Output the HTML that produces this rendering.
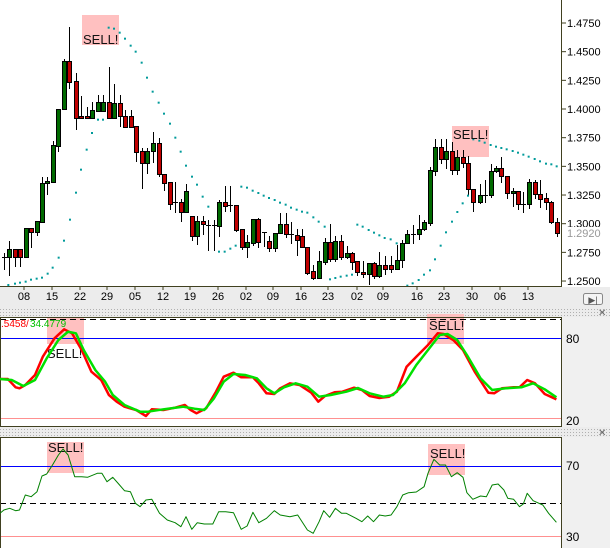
<!DOCTYPE html><html><head><style>
body{margin:0;width:610px;height:548px;overflow:hidden;background:#fff;font-family:"Liberation Sans",sans-serif}
svg{display:block}
</style></head><body>
<svg id="s" width="610" height="548" xmlns="http://www.w3.org/2000/svg" font-family="Liberation Sans, sans-serif">
<defs><pattern id="dots" width="3" height="3" patternUnits="userSpaceOnUse"><rect width="3" height="3" fill="#ececec"/><rect width="1" height="1" fill="#b0b0b0"/></pattern></defs>
<rect x="0" y="0" width="610" height="548" fill="#fff"/>
<rect x="0" y="287" width="610" height="20" fill="#ececec"/>
<rect x="0" y="307" width="610" height="10" fill="url(#dots)"/>
<rect x="562" y="317" width="48" height="110" fill="#f0f0f0"/>
<rect x="0" y="427" width="610" height="10" fill="url(#dots)"/>
<rect x="562" y="437" width="48" height="111" fill="#f0f0f0"/>
<g id="g"></g>
</svg>
<script>
const NS="http://www.w3.org/2000/svg",G=document.getElementById('g');
function el(t,a,txt){const e=document.createElementNS(NS,t);for(const k in a)e.setAttribute(k,a[k]);if(txt!==undefined)e.textContent=txt;G.appendChild(e);return e}
// pink boxes
[[82,15,37,30],[452,126,37,31],[47,318,37,26],[427,314,37,30],[47,442,37,31],[428,444,37,31]].forEach(b=>el('rect',{x:b[0],y:b[1],width:b[2],height:b[3],fill:'#ffc0c0'}));
// main candles [x,top,bottom,h,l,c]
const C=[[4,257,257,253,270,'d'],[9,249,257,241,276,'g'],[15,249,257,249,267,'r'],[20,249,257,249,267,'r'],[26,228,257,228,257,'g'],[31,228,232,228,248,'r'],[37,221,232,221,236,'g'],[42,183,222,177,222,'g'],[47,181,183,177,195,'g'],[53,145,182,141,182,'g'],[58,109,146,109,152,'g'],[64,61,109,59,109,'g'],[69,61,82,27,89,'r'],[76,81,118,73,130,'r'],[81,116,118,96,118,'r'],[87,116,118,107,119,'r'],[92,110,118,102,118,'g'],[98,102,111,95,111,'g'],[103,102,111,95,111,'g'],[109,102,118,67,118,'r'],[114,103,118,84,118,'g'],[120,103,116,95,127,'r'],[125,116,127,110,128,'r'],[131,116,127,110,128,'r'],[136,126,152,126,162,'r'],[142,151,163,148,189,'r'],[147,151,163,148,174,'g'],[153,143,151,132,163,'g'],[159,143,174,138,177,'r'],[164,174,183,174,191,'r'],[170,182,204,182,210,'r'],[175,202,202,182,213,'d'],[181,202,212,199,222,'r'],[186,191,212,184,212,'g'],[192,216,236,216,241,'r'],[197,221,236,216,245,'g'],[203,221,224,216,235,'r'],[208,225,225,220,251,'d'],[214,225,225,220,251,'d'],[219,202,226,200,237,'g'],[225,202,206,186,212,'r'],[230,205,205,186,212,'d'],[236,205,230,205,232,'r'],[242,229,247,229,250,'r'],[247,242,247,235,258,'g'],[253,219,243,219,246,'g'],[258,219,242,218,248,'r'],[264,232,232,232,247,'d'],[269,241,248,236,252,'r'],[275,233,248,233,252,'g'],[280,224,233,213,234,'g'],[286,224,234,213,238,'r'],[291,234,234,222,244,'d'],[297,235,240,229,256,'r'],[302,236,247,229,247,'r'],[307,247,273,247,275,'r'],[313,271,278,265,280,'r'],[319,261,278,251,278,'g'],[325,242,262,238,265,'g'],[330,242,259,224,262,'r'],[335,241,259,236,262,'g'],[341,241,257,235,260,'r'],[347,253,257,246,259,'g'],[352,253,262,252,270,'r'],[357,261,272,261,276,'r'],[363,272,274,261,278,'r'],[369,263,274,263,285,'g'],[374,263,276,262,279,'r'],[379,265,276,252,278,'g'],[385,265,269,256,275,'r'],[391,265,269,256,273,'r'],[397,260,269,245,268,'g'],[402,243,260,240,268,'g'],[407,234,243,230,244,'g'],[413,234,234,225,244,'d'],[419,229,234,215,240,'g'],[424,222,229,220,231,'g'],[430,170,223,167,226,'g'],[435,147,171,139,176,'g'],[441,147,159,139,164,'r'],[446,151,159,139,169,'g'],[452,151,170,142,175,'r'],[457,157,170,150,175,'g'],[463,157,163,150,168,'r'],[468,163,189,156,196,'r'],[473,189,202,189,212,'r'],[480,195,202,184,204,'g'],[485,195,195,180,203,'d'],[491,171,195,164,198,'g'],[496,168,171,166,173,'g'],[501,168,176,157,183,'r'],[507,176,193,176,199,'r'],[513,191,193,188,207,'g'],[518,191,204,191,210,'r'],[523,204,204,192,213,'d'],[529,182,204,179,209,'g'],[535,182,194,180,199,'r'],[540,194,199,180,208,'r'],[546,198,202,193,210,'r'],[551,202,222,201,224,'r'],[557,222,233,218,237,'r']];
C.forEach(c=>{const[x,t,b,h,l,k]=c;el('line',{x1:x+.5,y1:h,x2:x+.5,y2:l,stroke:'#000','stroke-width':1});
if(k=='d'){el('line',{x1:x-2,y1:t+.5,x2:x+3,y2:t+.5,stroke:'#000'})}else{el('rect',{x:x-2+.5,y:t+.5,width:4,height:Math.max(b-t,1),fill:k=='g'?'#006a00':'#c00000',stroke:'#000','stroke-width':1})}});
// PSAR
const P1=[[25,855],[45,851],[60,848],[77,845],[93,839],[110,836],[126,833],[143,821],[158,803],[176,773],[192,722],[210,659],[228,578],[243,509],[260,449],[276,399],[294,359],[309,359],[326,83],[342,86],[359,98],[375,116],[392,137],[407,155],[425,188],[441,233],[458,275],[476,308],[492,341],[510,371],[526,413],[542,455],[558,497],[576,530],[591,554],[608,590],[625,620],[657,755],[674,755],[691,746],[707,737],[724,560],[741,563],[758,572],[775,579],[791,587],[807,594],[824,600],[840,608],[857,614],[873,623],[890,629],[906,635]];
const P2=[[22,638],[40,652],[56,665],[74,680],[90,838],[106,834],[122,830],[140,827],[156,824],[172,674],[188,680],[206,690],[222,698],[238,706],[254,714],[272,718],[290,730],[322,857],[338,850],[356,840],[372,824],[390,811],[405,778],[422,737],[438,697],[456,665],[472,636],[488,610],[504,587],[520,418],[538,422],[554,428],[572,435],[588,440],[604,444],[620,448],[638,453],[654,458],[670,464],[686,470],[704,477],[720,484],[738,491],[754,493],[770,499]];
P1.forEach(p=>el('rect',{x:p[0]/3-1,y:p[1]/3-1,width:2,height:2,fill:'#009a9a'}));
P2.forEach(p=>el('rect',{x:300+p[0]/3-1,y:p[1]/3-1,width:2,height:2,fill:'#009a9a'}));
// axes main
el('line',{x1:561.5,y1:0,x2:561.5,y2:287,stroke:'#404020'});
el('line',{x1:0,y1:286.5,x2:562,y2:286.5,stroke:'#404020'});
const pl=['1.4750','1.4500','1.4250','1.4000','1.3750','1.3500','1.3250','1.3000','1.2750','1.2500'];
pl.forEach((t,i)=>{const y=23+i*28.67;el('line',{x1:561,y1:y,x2:566,y2:y,stroke:'#404020'});el('text',{x:567,y:y+4,'font-size':11,fill:'#000'},t)});
el('rect',{x:564,y:227,width:45,height:12,fill:'#fff'});el('text',{x:567,y:237,'font-size':11,fill:'#999'},'1.2920');
const dl=[[24,'08'],[52,'15'],[80,'22'],[107,'29'],[135,'05'],[163,'12'],[190,'19'],[218,'26'],[246,'02'],[273,'09'],[301,'16'],[328,'23'],[357,'02'],[383,'09'],[417,'16'],[444,'23'],[472,'30'],[500,'06'],[528,'13']];
dl.forEach(d=>{el('line',{x1:d[0],y1:286,x2:d[0],y2:290,stroke:'#404020'});el('text',{x:d[0],y:300,'font-size':11,'text-anchor':'middle',fill:'#000'},d[1])});
el('rect',{x:583.5,y:293.5,width:19,height:11,rx:2,fill:'#f4f4f4',stroke:'#888'});el('text',{x:593,y:303,'font-size':9,'text-anchor':'middle',fill:'#555'},'▶|');
// SELL texts
[[83,44],[453,139],[47,358],[429,330],[48,452],[430,458]].forEach(s=>el('text',{x:s[0],y:s[1],'font-size':13,fill:'#111'},'SELL!'));
// panel 2
el('line',{x1:0,y1:319.5,x2:561,y2:319.5,stroke:'#000','stroke-dasharray':'6,4'});
el('line',{x1:0,y1:338.5,x2:561,y2:338.5,stroke:'#0000ff'});
el('line',{x1:0,y1:418.5,x2:561,y2:418.5,stroke:'#ff9090'});
el('rect',{x:0.5,y:317.5,width:561,height:109,fill:'none',stroke:'#404020'});
el('text',{x:566,y:343,'font-size':12},'80');el('text',{x:566,y:425,'font-size':12},'20');
function line(pts,col,w,xs,ys){el('polyline',{points:pts.map(p=>(p[0]/xs).toFixed(1)+','+(300+p[1]/ys).toFixed(1)).join(' '),fill:'none',stroke:col,'stroke-width':w,'stroke-linejoin':'round'})}
const K=[[0,237],[20,237],[40,262],[50,265],[65,255],[90,225],[110,170],[140,115],[165,88],[185,100],[210,150],[235,215],[260,240],[280,285],[300,305],[320,320],[350,330],[375,348],[390,328],[420,330],[450,323],[475,315],[490,330],[505,340],[530,325],[555,275],[575,230],[600,218],[620,232],[650,232],[665,250],[685,280],[705,282],[720,265],[745,250],[770,255],[800,278],[818,305],[835,288],[860,277],[880,275],[910,263],[930,270],[950,288],[975,294],[1000,290],[1020,275],[1045,200],[1070,170],[1100,135],[1125,100],[1140,102],[1165,120],[1190,150],[1220,215],[1255,278],[1270,280],[1290,265],[1320,262],[1335,262],[1355,240],[1375,250],[1400,282],[1430,298]];
const D=[[0,237],[30,240],[60,258],[90,240],[120,175],[150,120],[175,95],[195,100],[215,150],[245,210],[270,245],[290,285],[320,315],[360,335],[380,335],[420,328],[470,320],[500,326],[525,330],[550,295],[575,245],[600,222],[630,225],[660,235],[685,265],[705,280],[730,262],[760,250],[790,260],[820,290],[850,285],[890,275],[920,264],[950,280],[985,290],[1010,285],[1040,250],[1070,195],[1100,150],[1130,105],[1150,102],[1175,120],[1200,165],[1235,235],[1265,270],[1300,265],[1340,262],[1370,250],[1400,268],[1430,292]];
line(K,'#ff0000',2.5,2.57,3);line(D,'#00e000',2.5,2.57,3);
el('text',{x:1,y:327,'font-size':10,fill:'#ff0000'},'.5458/');el('text',{x:30,y:327,'font-size':10,fill:'#00c000'},'34.4779');
// panel 3
el('line',{x1:0,y1:466.5,x2:561,y2:466.5,stroke:'#0000ff'});
el('line',{x1:0,y1:503.5,x2:561,y2:503.5,stroke:'#000','stroke-dasharray':'6,4'});
el('line',{x1:0,y1:536.5,x2:561,y2:536.5,stroke:'#ff9090'});
el('rect',{x:0.5,y:437.5,width:561,height:111,fill:'none',stroke:'#404020'});
el('text',{x:566,y:470,'font-size':12},'70');el('text',{x:566,y:541,'font-size':12},'30');
const R=[[0,640],[10,630],[25,625],[40,632],[50,630],[65,585],[80,590],[95,575],[108,528],[120,522],[135,495],[150,465],[162,447],[175,465],[192,530],[210,530],[225,532],[250,520],[262,520],[275,545],[290,532],[305,552],[320,572],[335,575],[348,610],[360,620],[375,600],[390,598],[410,640],[430,660],[450,668],[465,680],[478,650],[493,688],[507,668],[525,672],[547,672],[562,635],[580,635],[600,638],[620,688],[635,678],[650,637],[665,668],[685,655],[705,632],[720,645],[745,650],[765,645],[790,690],[805,700],[820,665],[832,632],[847,652],[862,625],[878,640],[890,640],[915,655],[930,665],[945,648],[960,665],[975,645],[990,648],[1005,645],[1020,620],[1035,585],[1050,578],[1070,576],[1090,560],[1100,520],[1115,478],[1130,495],[1145,495],[1160,530],[1175,518],[1190,532],[1200,578],[1215,598],[1235,588],[1250,590],[1265,555],[1280,552],[1295,570],[1305,595],[1320,598],[1335,620],[1345,612],[1355,580],[1370,602],[1395,615],[1410,640],[1430,667]];
line(R,'#008000',1,2.57,3);
// close icons
[[598,312],[598,432]].forEach(p=>el('text',{x:p[0],y:p[1]+4,'font-size':10,fill:'#666'},'✕'));
</script>
</body></html>
